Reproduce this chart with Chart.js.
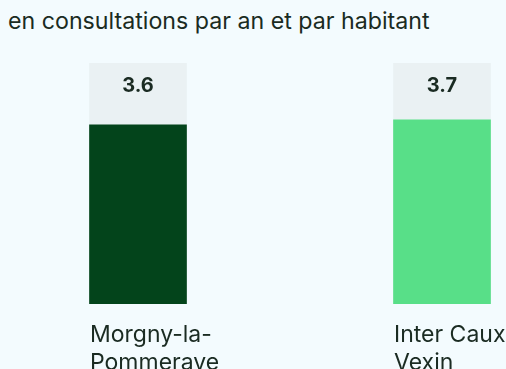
<!DOCTYPE html>
<html lang="fr">
<head>
<meta charset="utf-8">
<title>Consultations par habitant</title>
<script src="https://cdn.jsdelivr.net/npm/chart.js@4.4.1/dist/chart.umd.min.js"></script>
<style>
  html, body { margin: 0; padding: 0; width: 506px; height: 369px; overflow: hidden; background: #f3fbfe; }
  #subtitle {
    position: absolute; left: 8px; top: 10px; margin: 0;
    font: 400 23.2px/1 "Inter", "Liberation Sans", sans-serif; color: #1a2b22;
    white-space: nowrap;
  }
  #wrap { position: absolute; left: -14px; top: 0; width: 608px; height: 369px; }
</style>
</head>
<body>
<p id="subtitle">en consultations par an et par habitant</p>
<div id="wrap"><canvas id="chart"></canvas></div>
<script>
// Territories compared
const categories = [["Morgny-la-", "Pommeraye"], ["Inter Caux", "Vexin"]];
// Consultations per year per inhabitant
const values = [3.6, 3.7];
const valueLabels = ["3.6", "3.7"];
// Top of the value scale (height of the grey track behind each bar)
const scaleMax = 4.84;

const barColors = ["#03441b", "#58df88"];
const trackColor = "#eaf1f3";
const inkColor = "#1a2b22";

// Writes each value near the top of its grey track
const valueLabelPlugin = {
  id: "valueLabels",
  afterDatasetsDraw(chart) {
    const { ctx } = chart;
    const trackMeta = chart.getDatasetMeta(1);
    ctx.save();
    ctx.font = "700 20px Inter, 'Liberation Sans', sans-serif";
    ctx.fillStyle = inkColor;
    ctx.textAlign = "center";
    ctx.textBaseline = "middle";
    trackMeta.data.forEach((bar, i) => {
      ctx.fillText(valueLabels[i], bar.x, bar.y + 23);
    });
    ctx.restore();
  }
};

new Chart(document.getElementById("chart"), {
  type: "bar",
  data: {
    labels: categories,
    datasets: [
      {
        label: "Consultations",
        data: values,
        backgroundColor: barColors,
        barThickness: 97,
        grouped: false,
        order: 0
      },
      {
        label: "Échelle",
        data: categories.map(() => scaleMax),
        backgroundColor: trackColor,
        barThickness: 97,
        grouped: false,
        order: 1
      }
    ]
  },
  options: {
    responsive: true,
    maintainAspectRatio: false,
    animation: false,
    events: [],
    layout: { padding: { top: 63, bottom: 0, left: 0, right: 0 } },
    plugins: {
      legend: { display: false },
      tooltip: { enabled: false },
      title: { display: false }
    },
    scales: {
      x: {
        grid: { display: false, drawTicks: false },
        border: { display: false },
        ticks: {
          align: "start",
          labelOffset: -48,
          padding: 18,
          color: inkColor,
          font: { family: "Inter, 'Liberation Sans', sans-serif", size: 23, lineHeight: 1.18 },
          maxRotation: 0,
          autoSkip: false
        },
        afterFit(scale) { scale.height = 65; }
      },
      y: {
        display: false,
        min: 0,
        max: scaleMax
      }
    }
  },
  plugins: [valueLabelPlugin]
});
</script>
</body>
</html>
